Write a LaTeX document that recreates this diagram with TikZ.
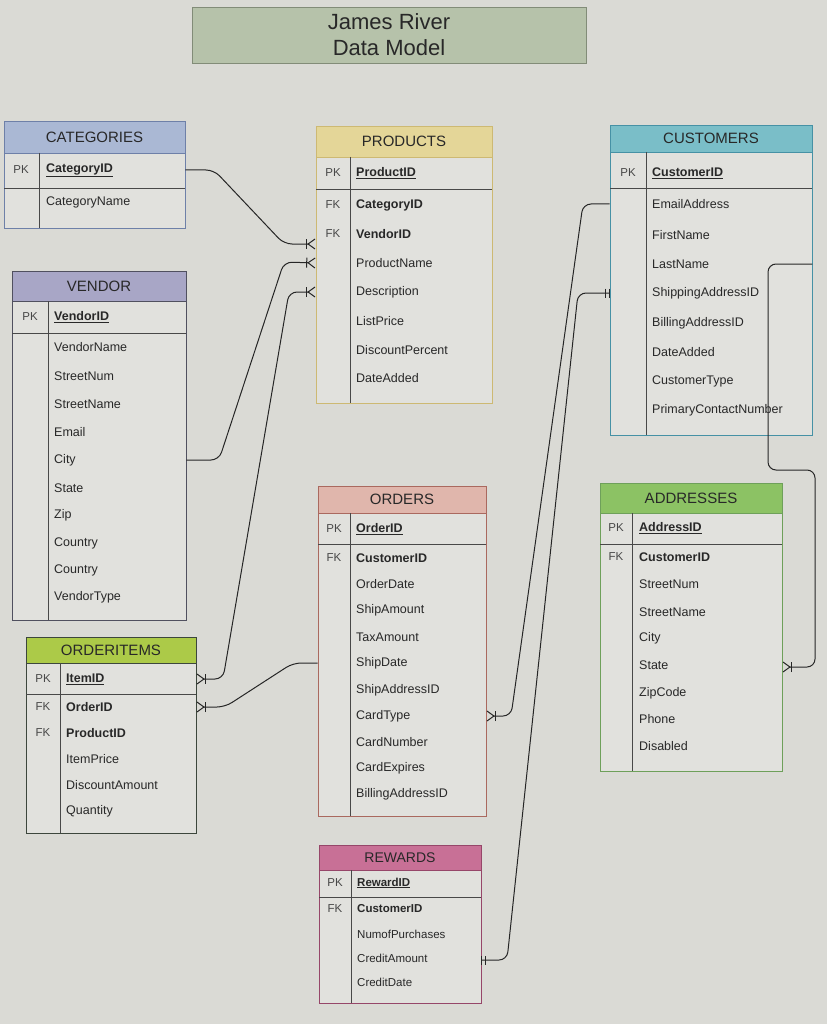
\documentclass[tikz,border=0pt]{standalone}
\usepackage{fontspec}
\setmainfont{Liberation Sans}
\usetikzlibrary{arrows.meta,fit}

\definecolor{paper}{RGB}{218,218,213}
\definecolor{body}{RGB}{225,225,221}
\definecolor{ink}{RGB}{40,40,40}
\definecolor{titlefill}{RGB}{182,194,170}
\definecolor{titleedge}{RGB}{130,140,120}
\definecolor{cathead}{RGB}{170,184,212}
\definecolor{catedge}{RGB}{110,128,168}
\definecolor{venhead}{RGB}{168,166,198}
\definecolor{venedge}{RGB}{80,80,95}
\definecolor{prohead}{RGB}{228,214,152}
\definecolor{proedge}{RGB}{205,185,115}
\definecolor{cushead}{RGB}{122,190,200}
\definecolor{cusedge}{RGB}{70,145,165}
\definecolor{ordhead}{RGB}{224,182,172}
\definecolor{ordedge}{RGB}{170,105,95}
\definecolor{addhead}{RGB}{140,194,100}
\definecolor{addedge}{RGB}{110,160,90}
\definecolor{oithead}{RGB}{172,202,72}
\definecolor{oitedge}{RGB}{60,70,60}
\definecolor{rewhead}{RGB}{200,112,150}
\definecolor{rewedge}{RGB}{150,70,105}

\begin{document}
\begin{tikzpicture}[
  x=1pt, y=-1pt,
  table/.style={draw, fill=body, inner sep=0pt, line width=0.9pt},
  head/.style={draw, inner sep=0pt, line width=0.9pt},
  htext/.style={font=\fontsize{15}{18}\selectfont, text=ink, inner sep=0pt},
  titlebox/.style={draw=titleedge, fill=titlefill, inner sep=0pt, line width=0.9pt},
  titletext/.style={align=center, font=\fontsize{22}{26}\selectfont, text=ink, inner sep=0pt},
  sep/.style={draw=ink!85, line width=0.9pt},
  key/.style={font=\fontsize{11.5}{13}\selectfont, text=ink!85, inner sep=1pt},
  field/.style={anchor=west, font=\fontsize{12.5}{15}\selectfont, text=ink, inner sep=1pt},
  keyf/.style={field, font=\fontsize{12.5}{15}\selectfont\bfseries},
  rel/.style={draw=black!85, line width=1pt, rounded corners=8pt},
  crowbar/.tip={Bar[width=10pt,line width=1pt] Straight Barb[reversed,length=7pt,width=10pt,line width=1pt]},
  onebar/.tip={Bar[width=9pt,line width=1pt,sep=3pt] Bar[width=9pt,line width=1pt]}
]
\useasboundingbox (0,0) rectangle (827,1024);
\fill[paper] (0,0) rectangle (827,1024);

% title
\node[titlebox, fit={(192,7) (586,63)}] (title) {};
\node[titletext] (title-t) at (title) {James River\\Data Model};

% categories
\node[table, draw=catedge, fit={(4,121) (185,228)}] (cat) {};
\node[head, draw=catedge, fill=cathead, fit={(4,121) (185,153)}] (cat-h) {};
\node[htext] (cat-t) at (cat-h) {CATEGORIES};
\draw[sep] (4,188) -- (185,188);
\draw[sep] (39,153) -- (39,228);
\node[key] (cat-k1) at (21,170) {PK};
\node[keyf] (cat-1) at (45,170) {\underline{CategoryID}};
\node[field] (cat-2) at (45,202) {CategoryName};

% vendor
\node[table, draw=venedge, fit={(12,271) (186,620)}] (ven) {};
\node[head, draw=venedge, fill=venhead, fit={(12,271) (186,301)}] (ven-h) {};
\node[htext] (ven-t) at (ven-h) {VENDOR};
\draw[sep] (12,333) -- (186,333);
\draw[sep] (48,301) -- (48,620);
\node[key] (ven-k1) at (30,317) {PK};
\node[keyf] (ven-1) at (53,317) {\underline{VendorID}};
\node[field] (ven-2) at (53,347) {VendorName};
\node[field] (ven-3) at (53,376) {StreetNum};
\node[field] (ven-4) at (53,404) {StreetName};
\node[field] (ven-5) at (53,432) {Email};
\node[field] (ven-6) at (53,460) {City};
\node[field] (ven-7) at (53,488) {State};
\node[field] (ven-8) at (53,515) {Zip};
\node[field] (ven-9) at (53,543) {Country};
\node[field] (ven-10) at (53,570) {Country};
\node[field] (ven-11) at (53,597) {VendorType};

% orderitems
\node[table, draw=oitedge, fit={(26,637) (196,833)}] (oit) {};
\node[head, draw=oitedge, fill=oithead, fit={(26,637) (196,663)}] (oit-h) {};
\node[htext] (oit-t) at (oit-h) {ORDERITEMS};
\draw[sep] (26,694) -- (196,694);
\draw[sep] (60,663) -- (60,833);
\node[key] (oit-k1) at (43,679) {PK};
\node[key] (oit-k2) at (43,707) {FK};
\node[key] (oit-k3) at (43,733) {FK};
\node[keyf] (oit-1) at (65,679) {\underline{ItemID}};
\node[keyf] (oit-2) at (65,707) {OrderID};
\node[keyf] (oit-3) at (65,733) {ProductID};
\node[field] (oit-4) at (65,759) {ItemPrice};
\node[field] (oit-5) at (65,785) {DiscountAmount};
\node[field] (oit-6) at (65,811) {Quantity};

% products
\node[table, draw=proedge, fit={(316,126) (492,403)}] (prod) {};
\node[head, draw=proedge, fill=prohead, fit={(316,126) (492,157)}] (prod-h) {};
\node[htext] (prod-t) at (prod-h) {PRODUCTS};
\draw[sep] (316,189) -- (492,189);
\draw[sep] (350,157) -- (350,403);
\node[key] (prod-k1) at (333,173) {PK};
\node[key] (prod-k2) at (333,205) {FK};
\node[key] (prod-k3) at (333,234) {FK};
\node[keyf] (prod-1) at (355,173) {\underline{ProductID}};
\node[keyf] (prod-2) at (355,205) {CategoryID};
\node[keyf] (prod-3) at (355,234) {VendorID};
\node[field] (prod-4) at (355,263) {ProductName};
\node[field] (prod-5) at (355,292) {Description};
\node[field] (prod-6) at (355,321) {ListPrice};
\node[field] (prod-7) at (355,350) {DiscountPercent};
\node[field] (prod-8) at (355,378) {DateAdded};

% orders
\node[table, draw=ordedge, fit={(318,486) (486,816)}] (ord) {};
\node[head, draw=ordedge, fill=ordhead, fit={(318,486) (486,513)}] (ord-h) {};
\node[htext] (ord-t) at (ord-h) {ORDERS};
\draw[sep] (318,544) -- (486,544);
\draw[sep] (350,513) -- (350,816);
\node[key] (ord-k1) at (334,529) {PK};
\node[key] (ord-k2) at (334,558) {FK};
\node[keyf] (ord-1) at (355,529) {\underline{OrderID}};
\node[keyf] (ord-2) at (355,558) {CustomerID};
\node[field] (ord-3) at (355,584) {OrderDate};
\node[field] (ord-4) at (355,610) {ShipAmount};
\node[field] (ord-5) at (355,637) {TaxAmount};
\node[field] (ord-6) at (355,663) {ShipDate};
\node[field] (ord-7) at (355,690) {ShipAddressID};
\node[field] (ord-8) at (355,716) {CardType};
\node[field] (ord-9) at (355,742) {CardNumber};
\node[field] (ord-10) at (355,768) {CardExpires};
\node[field] (ord-11) at (355,794) {BillingAddressID};

% rewards
\node[table, draw=rewedge, fit={(319,845) (481,1003)}] (rew) {};
\node[head, draw=rewedge, fill=rewhead, fit={(319,845) (481,870)}] (rew-h) {};
\node[htext, font=\fontsize{14}{16}\selectfont] (rew-t) at (rew-h) {REWARDS};
\draw[sep] (319,897) -- (481,897);
\draw[sep] (351,870) -- (351,1003);
\node[key] (rew-k1) at (335,883) {PK};
\node[key] (rew-k2) at (335,909) {FK};
\node[keyf, font=\fontsize{11.5}{13}\selectfont\bfseries] (rew-1) at (356,883) {\underline{RewardID}};
\node[keyf, font=\fontsize{11.5}{13}\selectfont\bfseries] (rew-2) at (356,909) {CustomerID};
\node[field, font=\fontsize{11.5}{13}\selectfont] (rew-3) at (356,934) {NumofPurchases};
\node[field, font=\fontsize{11.5}{13}\selectfont] (rew-4) at (356,958) {CreditAmount};
\node[field, font=\fontsize{11.5}{13}\selectfont] (rew-5) at (356,982) {CreditDate};

% customers
\node[table, draw=cusedge, fit={(610,125) (812,435)}] (cus) {};
\node[head, draw=cusedge, fill=cushead, fit={(610,125) (812,152)}] (cus-h) {};
\node[htext] (cus-t) at (cus-h) {CUSTOMERS};
\draw[sep] (610,188) -- (812,188);
\draw[sep] (646,152) -- (646,435);
\node[key] (cus-k1) at (628,173) {PK};
\node[keyf] (cus-1) at (651,173) {\underline{CustomerID}};
\node[field] (cus-2) at (651,204) {EmailAddress};
\node[field] (cus-3) at (651,235) {FirstName};
\node[field] (cus-4) at (651,264) {LastName};
\node[field] (cus-5) at (651,293) {ShippingAddressID};
\node[field] (cus-6) at (651,323) {BillingAddressID};
\node[field] (cus-7) at (651,352) {DateAdded};
\node[field] (cus-8) at (651,381) {CustomerType};
\node[field] (cus-9) at (651,410) {PrimaryContactNumber};

% addresses
\node[table, draw=addedge, fit={(600,483) (782,771)}] (add) {};
\node[head, draw=addedge, fill=addhead, fit={(600,483) (782,513)}] (add-h) {};
\node[htext] (add-t) at (add-h) {ADDRESSES};
\draw[sep] (600,544) -- (782,544);
\draw[sep] (632,513) -- (632,771);
\node[key] (add-k1) at (616,528) {PK};
\node[key] (add-k2) at (616,557) {FK};
\node[keyf] (add-1) at (638,528) {\underline{AddressID}};
\node[keyf] (add-2) at (638,557) {CustomerID};
\node[field] (add-3) at (638,584) {StreetNum};
\node[field] (add-4) at (638,612) {StreetName};
\node[field] (add-5) at (638,638) {City};
\node[field] (add-6) at (638,665) {State};
\node[field] (add-7) at (638,693) {ZipCode};
\node[field] (add-8) at (638,719) {Phone};
\node[field] (add-9) at (638,746) {Disabled};

% relationships
\draw[rel, -crowbar] (cat.east |- cat-1) -- (214,170) -- (284,244) -- (prod.west |- 0,244);
\draw[rel, -crowbar] (ven.east |- ven-6) -- (219,460) -- (284,262) -- (prod.west |- prod-4);
\draw[rel, crowbar-crowbar] (oit.east |- oit-1) -- (223,679) -- (289,292) -- (prod.west |- prod-5);
\draw[rel, -crowbar] (ord.west |- ord-6) -- (293,663) -- (225,707) -- (oit.east |- oit-2);
\draw[rel, crowbar-] (ord.east |- ord-8) -- (511,716) -- (583,204) -- (cus.west |- cus-2);
\draw[rel, onebar-onebar] (rew.east |- 0,960) -- (507,960) -- (578,293) -- (cus.west |- cus-5);
\draw[rel, -crowbar] (cus.east |- cus-4) -- (768,264) -- (768,470) -- (815,470) -- (815,667) -- (add.east |- 0,667);
\end{tikzpicture}
\end{document}
